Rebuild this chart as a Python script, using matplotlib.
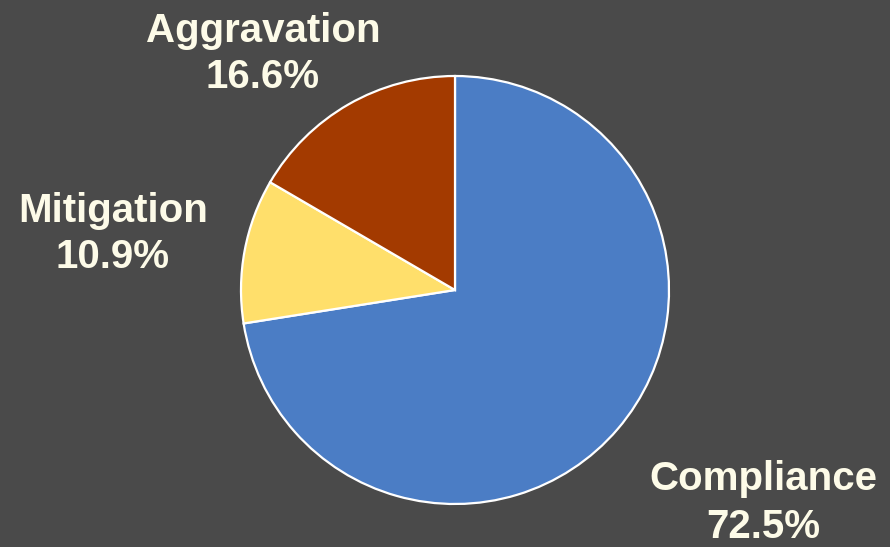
from matplotlib import pyplot as plt

labels = ["Compliance", "Mitigation", "Aggravation"]
shares = [72.5, 10.9, 16.6]
colors = ["#4b7dc5", "#ffdf6b", "#a33a00"]

bg = "#4a4a4a"
txt = "#fdfbe8"

fig = plt.figure(figsize=(8.9, 5.47), dpi=100, facecolor=bg)
ax = fig.add_axes([0, 0, 1, 1])
ax.set_facecolor(bg)

# pie centre and radius in pixels (y measured from bottom)
cx, cy, r = 455, 257, 214
ax.pie(shares, colors=colors, startangle=90, counterclock=False,
       center=(cx, cy), radius=r, frame=True,
       wedgeprops=dict(edgecolor="white", linewidth=1.6))
ax.set_xlim(0, 890)
ax.set_ylim(0, 547)
ax.set_aspect("equal")
ax.axis("off")

# label positions (pixels), centred
label_pos = {"Compliance": (763, 44), "Mitigation": (113, 313), "Aggravation": (263, 493)}
for name, val in zip(labels, shares):
    x, y = label_pos[name]
    ax.text(x, y, f"{name}\n{val}%", ha="center", va="center", color=txt,
            fontsize=29, fontweight="bold", family=["Liberation Sans", "DejaVu Sans"],
            linespacing=1.3)

plt.savefig("out.png", facecolor=bg)
plt.close()
